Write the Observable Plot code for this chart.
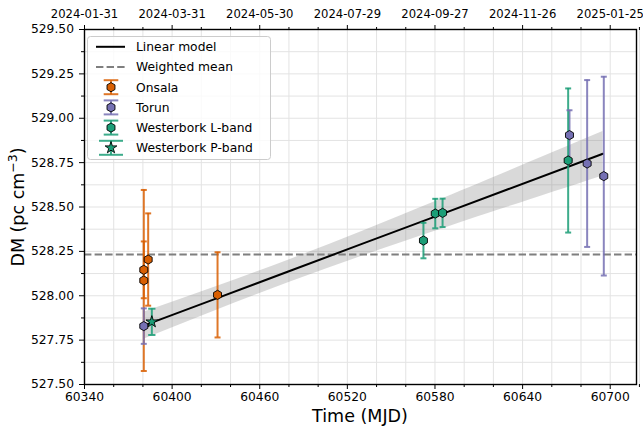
<!DOCTYPE html>
<html>
<head>
<meta charset="utf-8">
<script src="https://cdn.jsdelivr.net/npm/d3@7"></script>
<script src="https://cdn.jsdelivr.net/npm/@observablehq/plot@0.6"></script>
<style>
  html, body { margin: 0; padding: 0; background: white; }
  svg { display: block; }
</style>
</head>
<body>
<div id="chart"></div>
<script>
// ---------------- data ----------------
const onsalaT   = [60380.6, 60380.6, 60383.6, 60431.1];
const onsalaDM  = [528.086, 528.146, 528.204, 528.005];
const onsalaErr = [0.51, 0.16, 0.26, 0.24];

const torunT   = [60380.6, 60672.1, 60684.2, 60695.6];
const torunDM  = [527.829, 528.905, 528.745, 528.674];
const torunErr = [0.10, 0.14, 0.47, 0.56];

const wlT   = [60572.1, 60580.2, 60585.2, 60671.2];
const wlDM  = [528.311, 528.463, 528.467, 528.762];
const wlErr = [0.10, 0.083, 0.08, 0.406];

const wpT   = [60386.1];
const wpDM  = [527.853];
const wpErr = [0.074];

// linear model line and its uncertainty band
const modelT  = [60381, 60430, 60480, 60530, 60580, 60630, 60695];
const modelDM = [527.833, 527.984, 528.138, 528.292, 528.446, 528.600, 528.800];
const modelLo = [527.757, 527.917, 528.074, 528.222, 528.363, 528.500, 528.675];
const modelHi = [527.909, 528.051, 528.202, 528.362, 528.529, 528.700, 528.925];

const weightedMean = 528.232;

// ticks
const xMajor = [60340, 60400, 60460, 60520, 60580, 60640, 60700];
const xMajorLabels = ["60340", "60400", "60460", "60520", "60580", "60640", "60700"];
const topLabels = ["2024-01-31", "2024-03-31", "2024-05-30", "2024-07-29", "2024-09-27", "2024-11-26", "2025-01-25"];
const xMinor = d3.range(60340, 60721, 20);
const yMajor = [527.5, 527.75, 528.0, 528.25, 528.5, 528.75, 529.0, 529.25, 529.5];
const yMajorLabels = ["527.50", "527.75", "528.00", "528.25", "528.50", "528.75", "529.00", "529.25", "529.50"];
const yMinor = d3.range(527.5, 529.51, 0.125);

const colors = { Onsala: "#d95f02", Torun: "#7570b3", WL: "#1b9e77", WP: "#1b9e77" };

// ---------------- build tables ----------------
function rows(series, T, DM, E, cap) {
  return T.map((t, i) => ({ series, t, dm: DM[i], err: E[i], cap }));
}
const points = [
  ...rows("Onsala", onsalaT, onsalaDM, onsalaErr, 7.5),
  ...rows("Torun", torunT, torunDM, torunErr, 7.5),
  ...rows("WL", wlT, wlDM, wlErr, 7.5),
  ...rows("WP", wpT, wpDM, wpErr, 11)
];
const caps = points.flatMap(d => [
  { ...d, y: d.dm - d.err },
  { ...d, y: d.dm + d.err }
]);
const model = modelT.map((t, i) => ({ t, dm: modelDM[i], lo: modelLo[i], hi: modelHi[i] }));

// ---------------- symbols ----------------
const capSymbol = {
  draw(ctx, size) {
    const r = Math.sqrt(size / Math.PI);
    ctx.moveTo(-r, 0); ctx.lineTo(r, 0);
  }
};
const hexSymbol = {
  draw(ctx, size) {
    const r = Math.sqrt(size / Math.PI);
    for (let k = 0; k < 6; k++) {
      const a = -Math.PI / 2 + k * Math.PI / 3;
      const x = r * Math.cos(a), y = r * Math.sin(a);
      if (k === 0) ctx.moveTo(x, y); else ctx.lineTo(x, y);
    }
    ctx.closePath();
  }
};
const starSymbol = {
  draw(ctx, size) {
    const R = Math.sqrt(size / Math.PI), ri = R * 0.382;
    for (let k = 0; k < 10; k++) {
      const a = -Math.PI / 2 + k * Math.PI / 5;
      const rr = k % 2 === 0 ? R : ri;
      const x = rr * Math.cos(a), y = rr * Math.sin(a);
      if (k === 0) ctx.moveTo(x, y); else ctx.lineTo(x, y);
    }
    ctx.closePath();
  }
};

const hexPts = points.filter(d => d.series !== "WP");
const starPts = points.filter(d => d.series === "WP");

const chart = Plot.plot({
  width: 643,
  height: 430,
  marginLeft: 84,
  marginRight: 7,
  marginTop: 29,
  marginBottom: 46,
  x: { domain: [60340, 60718] },
  y: { domain: [527.5, 529.5] },
  style: { fontFamily: "DejaVu Sans", fontSize: "12.3px", color: "black", background: "white", overflow: "visible" },
  marks: [
    // grid
    Plot.ruleX(xMinor, { stroke: "#e3e3e3", strokeWidth: 1 }),
    Plot.ruleY(yMinor, { stroke: "#e3e3e3", strokeWidth: 1 }),
    // band and lines
    Plot.areaY(model, { x: "t", y1: "lo", y2: "hi", fill: "gray", fillOpacity: 0.3, curve: "natural" }),
    Plot.ruleY([weightedMean], { stroke: "#7f7f7f", strokeWidth: 2, strokeDasharray: "7.4,3.2" }),
    Plot.line(model, { x: "t", y: "dm", stroke: "black", strokeWidth: 2 }),
    // error bars
    Plot.ruleX(points, { x: "t", y1: d => d.dm - d.err, y2: d => d.dm + d.err, stroke: d => colors[d.series], strokeWidth: 2, strokeOpacity: 0.85 }),
    Plot.dot(caps, { x: "t", y: "y", r: "cap", symbol: capSymbol, stroke: d => colors[d.series], strokeWidth: 2, strokeOpacity: 0.85, fill: "none" }),
    // markers
    Plot.dot(hexPts, { x: "t", y: "dm", r: 4.6, symbol: hexSymbol, fill: d => colors[d.series], stroke: "black", strokeWidth: 0.9 }),
    Plot.dot(starPts, { x: "t", y: "dm", r: 6.2, symbol: starSymbol, fill: d => colors[d.series], stroke: "black", strokeWidth: 0.9 }),
    // frame and axes
    Plot.frame({ stroke: "black", strokeWidth: 1.4 }),
    Plot.axisX({ anchor: "bottom", ticks: xMajor, tickFormat: d => xMajorLabels[xMajor.indexOf(d)], tickSize: 5, tickPadding: 3, label: null }),
    Plot.axisX({ anchor: "bottom", ticks: xMinor.filter(v => !xMajor.includes(v)), tickFormat: () => "", tickSize: 3, label: null }),
    Plot.axisX({ anchor: "top", ticks: xMajor, tickFormat: d => topLabels[xMajor.indexOf(d)], tickSize: 5, tickPadding: 7, fontSize: 11.6, label: null }),
    Plot.axisX({ anchor: "top", ticks: xMinor.filter(v => !xMajor.includes(v)), tickFormat: () => "", tickSize: 3, label: null }),
    Plot.axisY({ anchor: "left", ticks: yMajor, tickFormat: d => yMajorLabels[yMajor.indexOf(d)], tickSize: 5, tickPadding: 5.5, label: null }),
    Plot.axisY({ anchor: "left", ticks: yMinor.filter((v, i) => i % 2 === 1), tickFormat: () => "", tickSize: 3, label: null })
  ]
});

const svg = d3.select(chart);
// axis labels
svg.append("text")
  .attr("x", 360).attr("y", 422)
  .attr("text-anchor", "middle")
  .attr("font-family", "DejaVu Sans").attr("font-size", 17.5).attr("fill", "black")
  .text("Time (MJD)");
const yl = svg.append("text")
  .attr("transform", "translate(24,207) rotate(-90)")
  .attr("text-anchor", "middle")
  .attr("font-family", "DejaVu Sans").attr("font-size", 17.5).attr("fill", "black");
yl.append("tspan").text("DM (pc cm");
yl.append("tspan").attr("font-size", 12.5).attr("dy", -7).text("\u22123");
yl.append("tspan").attr("dy", 7).text(")");

// legend
const lg = svg.append("g").attr("font-family", "DejaVu Sans").attr("font-size", 12.3).attr("text-anchor", "start");
lg.append("rect").attr("x", 87.5).attr("y", 36.5).attr("width", 183).attr("height", 123)
  .attr("rx", 3).attr("fill", "white").attr("fill-opacity", 0.8).attr("stroke", "#cccccc");
const legendItems = [
  { label: "Linear model", kind: "line" },
  { label: "Weighted mean", kind: "dash" },
  { label: "Onsala", kind: "hex", color: colors.Onsala, cap: 7.3 },
  { label: "Torun", kind: "hex", color: colors.Torun, cap: 7.3 },
  { label: "Westerbork L-band", kind: "hex", color: colors.WL, cap: 7.3 },
  { label: "Westerbork P-band", kind: "star", color: colors.WP, cap: 12 }
];
const hx = 111, rowY0 = 46.8, rowDY = 20.2;
function symPath(sym, r) {
  return d3.symbol().type(sym).size(r * r * Math.PI)();
}
legendItems.forEach((it, i) => {
  const y = rowY0 + i * rowDY;
  if (it.kind === "line") {
    lg.append("line").attr("x1", 96).attr("x2", 125).attr("y1", y).attr("y2", y).attr("stroke", "black").attr("stroke-width", 2);
  } else if (it.kind === "dash") {
    lg.append("line").attr("x1", 96).attr("x2", 125).attr("y1", y).attr("y2", y).attr("stroke", "#7f7f7f").attr("stroke-width", 2).attr("stroke-dasharray", "7.4,3.2");
  } else {
    const c = it.color;
    lg.append("line").attr("x1", hx).attr("x2", hx).attr("y1", y - 7).attr("y2", y + 7).attr("stroke", c).attr("stroke-width", 2).attr("stroke-opacity", 0.85);
    [-7, 7].forEach(dy => lg.append("line").attr("x1", hx - it.cap).attr("x2", hx + it.cap).attr("y1", y + dy).attr("y2", y + dy).attr("stroke", c).attr("stroke-width", 2).attr("stroke-opacity", 0.85));
    lg.append("path").attr("transform", `translate(${hx},${y})`)
      .attr("d", symPath(it.kind === "star" ? starSymbol : hexSymbol, it.kind === "star" ? 6.2 : 4.6))
      .attr("fill", c).attr("stroke", "black").attr("stroke-width", 0.9);
  }
  lg.append("text").attr("x", 136).attr("y", y).attr("dy", "0.35em").attr("fill", "black").attr("text-anchor", "start").text(it.label);
});

document.getElementById("chart").appendChild(chart);
</script>
</body>
</html>
